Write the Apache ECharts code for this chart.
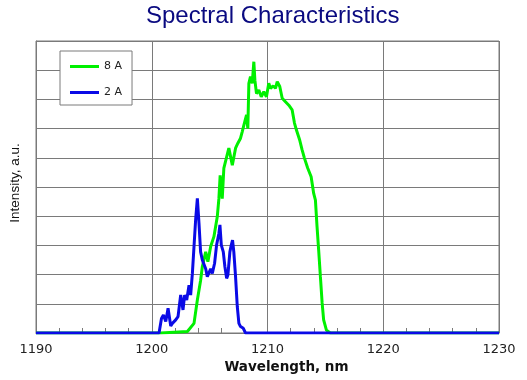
<!DOCTYPE html>
<html>
<head>
<meta charset="utf-8">
<script src="https://cdn.jsdelivr.net/npm/echarts@6/dist/echarts.min.js"></script>
<style>html,body{margin:0;padding:0;background:#fff}#c{width:527px;height:380px}</style>
</head>
<body>
<div id="c"></div>
<script>
const titleText = "Spectral Characteristics";
const xAxisName = "Wavelength, nm";
const yAxisName = "Intensity, a.u.";
const seriesNames = ["8 A", "2 A"];

const greenX = [1190, 1200.78, 1203.08, 1203.65, 1203.94, 1204.22, 1204.37, 1204.66, 1204.85, 1205.09, 1205.37, 1205.66, 1205.80, 1205.91, 1206.09, 1206.23, 1206.66, 1206.96, 1207.24, 1207.44, 1207.67, 1207.82, 1207.96, 1208.19, 1208.30, 1208.39, 1208.53, 1208.68, 1208.82, 1208.91, 1209.05, 1209.25, 1209.46, 1209.68, 1209.91, 1210.11, 1210.26, 1210.49, 1210.69, 1210.84, 1211.06, 1211.27, 1211.55, 1211.84, 1212.13, 1212.33, 1212.50, 1212.78, 1212.99, 1213.19, 1213.47, 1213.77, 1213.99, 1214.14, 1214.28, 1214.42, 1214.57, 1214.72, 1214.85, 1215.09, 1215.43, 1230];
const greenY = [0, 0, 0.05, 0.33, 1.13, 1.8, 2.27, 2.78, 2.44, 2.96, 3.3, 3.98, 4.6, 5.4, 4.6, 5.65, 6.33, 5.75, 6.33, 6.5, 6.67, 6.9, 7.12, 7.47, 7.0, 8.55, 8.78, 8.55, 9.29, 8.66, 8.2, 8.32, 8.09, 8.26, 8.09, 8.55, 8.38, 8.46, 8.38, 8.61, 8.44, 8.04, 7.92, 7.8, 7.64, 7.19, 6.95, 6.61, 6.27, 5.99, 5.65, 5.35, 4.78, 4.55, 3.64, 2.84, 1.93, 1.03, 0.45, 0.1, 0, 0];

const blueX = [1190, 1200.63, 1200.84, 1201.01, 1201.21, 1201.41, 1201.64, 1201.78, 1202.07, 1202.27, 1202.50, 1202.70, 1202.84, 1203.02, 1203.22, 1203.36, 1203.51, 1203.65, 1203.79, 1203.94, 1204.08, 1204.22, 1204.37, 1204.51, 1204.66, 1204.80, 1204.94, 1205.09, 1205.23, 1205.43, 1205.60, 1205.80, 1205.89, 1206.01, 1206.18, 1206.32, 1206.47, 1206.58, 1206.75, 1206.87, 1206.98, 1207.09, 1207.24, 1207.39, 1207.53, 1207.67, 1207.91, 1208.10, 1230];
const blueY = [0, 0, 0.5, 0.62, 0.39, 0.85, 0.24, 0.33, 0.45, 0.56, 1.3, 0.79, 1.3, 1.13, 1.64, 1.3, 2.04, 2.96, 3.87, 4.61, 3.76, 2.78, 2.5, 2.44, 2.2, 1.93, 1.87, 2.2, 2.04, 2.39, 3.01, 3.41, 3.7, 3.01, 2.78, 2.27, 1.87, 1.99, 2.78, 3.01, 3.18, 2.78, 1.93, 0.9, 0.33, 0.22, 0.16, 0, 0];

const xTicks = [1190, 1200, 1210, 1220, 1230];

const pairs = (xs, ys) => xs.map((x, i) => [x, ys[i]]);
const chart = echarts.init(document.getElementById('c'), null, {renderer: 'canvas'});
const gridColor = '#7a7a7a';
const wide = 'DejaVu Sans, sans-serif';
const arial = 'Liberation Sans, Arial, sans-serif';
chart.setOption({
  animation: false,
  backgroundColor: '#ffffff',
  title: {
    text: titleText, left: 141, top: -1,
    textStyle: {color: '#0a0a80', fontSize: 24, fontWeight: 'normal', fontFamily: arial}
  },
  legend: {
    orient: 'vertical', left: 60, top: 51,
    backgroundColor: '#ffffff',
    borderColor: gridColor, borderWidth: 1,
    padding: [10, 10, 7, 10],
    icon: 'rect',
    itemWidth: 29, itemHeight: 3, itemGap: 15,
    textStyle: {fontSize: 11, color: '#222', fontFamily: wide},
    data: seriesNames
  },
  grid: {left: 35, right: 28, top: 41, bottom: 47, show: true, borderColor: gridColor, borderWidth: 1},
  xAxis: {
    type: 'value', min: xTicks[0], max: xTicks[xTicks.length - 1], interval: 10,
    name: xAxisName, nameLocation: 'middle', nameGap: 27,
    nameTextStyle: {fontSize: 13.5, fontWeight: 'bold', color: '#111', fontFamily: wide, padding: [0, 0, 0, 38]},
    axisLine: {show: true, lineStyle: {color: gridColor}},
    axisTick: {show: true, inside: true, length: 5, lineStyle: {color: gridColor}},
    minorTick: {show: true, splitNumber: 5, length: 5, lineStyle: {color: gridColor}},
    axisLabel: {fontSize: 13, color: '#222', margin: 10, fontFamily: wide, formatter: v => String(v)},
    splitLine: {show: true, lineStyle: {color: gridColor, width: 1}}
  },
  yAxis: {
    type: 'value', min: 0, max: 10, interval: 1,
    name: yAxisName, nameLocation: 'middle', nameGap: 14, nameRotate: 90,
    nameTextStyle: {fontSize: 13.5, color: '#111', fontFamily: arial, padding: [0, 0, 0, 8]},
    axisLine: {show: true, lineStyle: {color: gridColor}},
    axisTick: {show: false},
    axisLabel: {show: false},
    splitLine: {show: true, lineStyle: {color: gridColor, width: 1}}
  },
  series: [
    {name: seriesNames[0], type: 'line', data: pairs(greenX, greenY), showSymbol: false, symbol: 'none',
     lineStyle: {color: '#00f000', width: 3}, itemStyle: {color: '#00f000'}},
    {name: seriesNames[1], type: 'line', data: pairs(blueX, blueY), showSymbol: false, symbol: 'none',
     lineStyle: {color: '#0a0ae6', width: 3}, itemStyle: {color: '#0a0ae6'}}
  ]
});
</script>
</body>
</html>
